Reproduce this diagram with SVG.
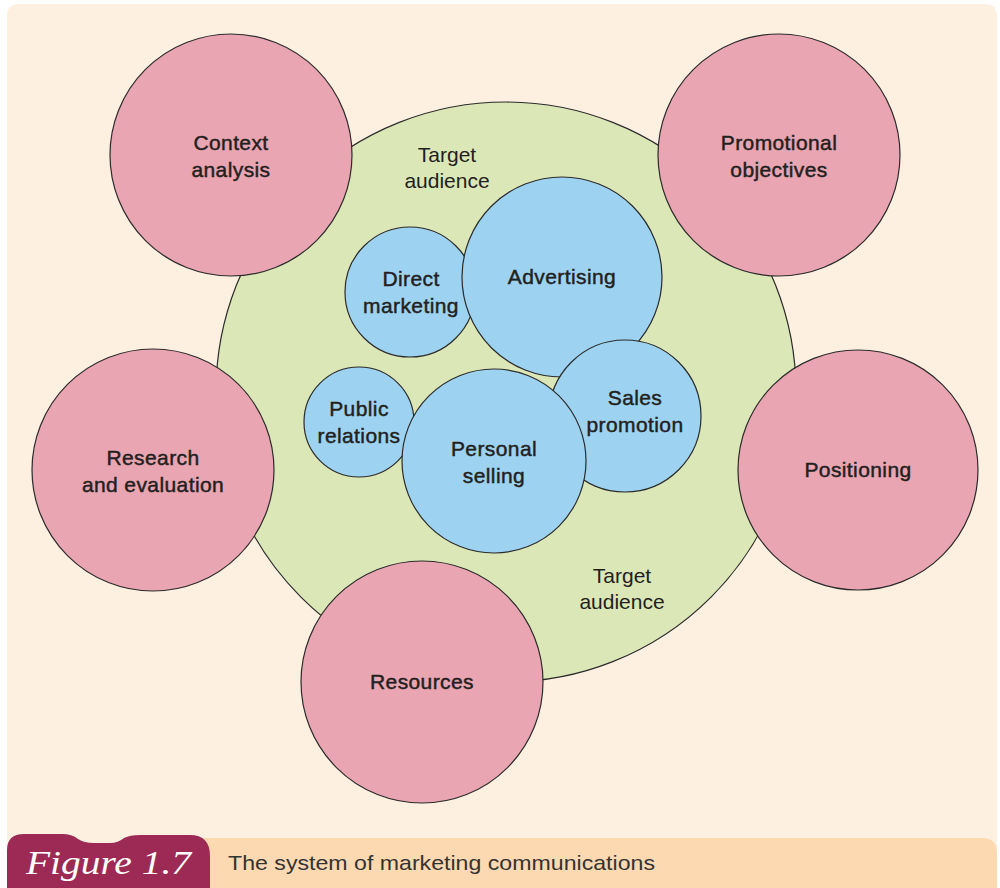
<svg xmlns="http://www.w3.org/2000/svg" width="1000" height="888" viewBox="0 0 1000 888">
<style>
.lbl{font-family:"Liberation Sans",Arial,Helvetica,sans-serif;font-size:21px;fill:#231f20;stroke:#231f20;stroke-width:0.45px;letter-spacing:0.4px;text-anchor:middle}
.ta{font-family:"Liberation Sans",Arial,Helvetica,sans-serif;font-size:21px;fill:#231f20;text-anchor:middle}
.pink{fill:#e9a5b2;stroke:#2b2b2b;stroke-width:1.2}
.blue{fill:#9dd3f0;stroke:#2b2b2b;stroke-width:1.2}
.green{fill:#dce7b8;stroke:#2b2b2b;stroke-width:1.2}
</style>
<rect x="0" y="0" width="1000" height="888" fill="#ffffff"/>
<path d="M7,16 Q7,4 19,4 L985,4 Q997,4 997,16 L997,888 L7,888 Z" fill="#fdf0e1"/>
<g id="caption">
<path d="M200,838 L982,838 Q997,838 997,853 L997,888 L200,888 Z" fill="#fdd9b1"/>
<path d="M7,888 L7,850 Q7,834 24,834 L62,834 Q72,834 78,839 Q84,843 94,843 L110,843 Q118,843 124,838 Q130,835 140,835 L190,835 Q210,835 210,856 L210,888 Z" fill="#9c2a55"/>
<text x="26" y="874" font-family="'Liberation Serif','DejaVu Serif',serif" font-style="italic" font-size="34" fill="#ffffff" textLength="165" lengthAdjust="spacingAndGlyphs">Figure 1.7</text>
<text x="228" y="870" font-family="'Liberation Sans',Arial,sans-serif" font-size="21" fill="#333333" textLength="427" lengthAdjust="spacingAndGlyphs">The system of marketing communications</text>
</g>
<g id="target-audience">
<circle class="green" cx="506" cy="392" r="290"/>
<text class="ta" x="447" y="162">Target</text>
<text class="ta" x="447" y="188">audience</text>
<text class="ta" x="622" y="583">Target</text>
<text class="ta" x="622" y="609">audience</text>
</g>
<g id="context-analysis">
<circle class="pink" cx="231" cy="155" r="121"/>
<text class="lbl" x="231" y="150">Context</text>
<text class="lbl" x="231" y="177">analysis</text>
</g>
<g id="promotional-objectives">
<circle class="pink" cx="779" cy="155" r="121"/>
<text class="lbl" x="779" y="150">Promotional</text>
<text class="lbl" x="779" y="177">objectives</text>
</g>
<g id="research-evaluation">
<circle class="pink" cx="153" cy="470" r="121"/>
<text class="lbl" x="153" y="465">Research</text>
<text class="lbl" x="153" y="492">and evaluation</text>
</g>
<g id="positioning">
<circle class="pink" cx="858" cy="470" r="120"/>
<text class="lbl" x="858" y="477">Positioning</text>
</g>
<g id="resources">
<circle class="pink" cx="422" cy="682" r="121"/>
<text class="lbl" x="422" y="689">Resources</text>
</g>
<g id="direct-marketing">
<circle class="blue" cx="410" cy="292" r="65"/>
<text class="lbl" x="411" y="286">Direct</text>
<text class="lbl" x="411" y="313">marketing</text>
</g>
<g id="advertising">
<circle class="blue" cx="562" cy="277" r="100"/>
<text class="lbl" x="562" y="284">Advertising</text>
</g>
<g id="sales-promotion">
<circle class="blue" cx="625" cy="416" r="76"/>
<text class="lbl" x="635" y="405">Sales</text>
<text class="lbl" x="635" y="432">promotion</text>
</g>
<g id="public-relations">
<circle class="blue" cx="359" cy="422" r="55"/>
<text class="lbl" x="359" y="416">Public</text>
<text class="lbl" x="359" y="443">relations</text>
</g>
<g id="personal-selling">
<circle class="blue" cx="494" cy="461" r="92"/>
<text class="lbl" x="494" y="456">Personal</text>
<text class="lbl" x="494" y="483">selling</text>
</g>
<g id="connectors"></g>
</svg>
